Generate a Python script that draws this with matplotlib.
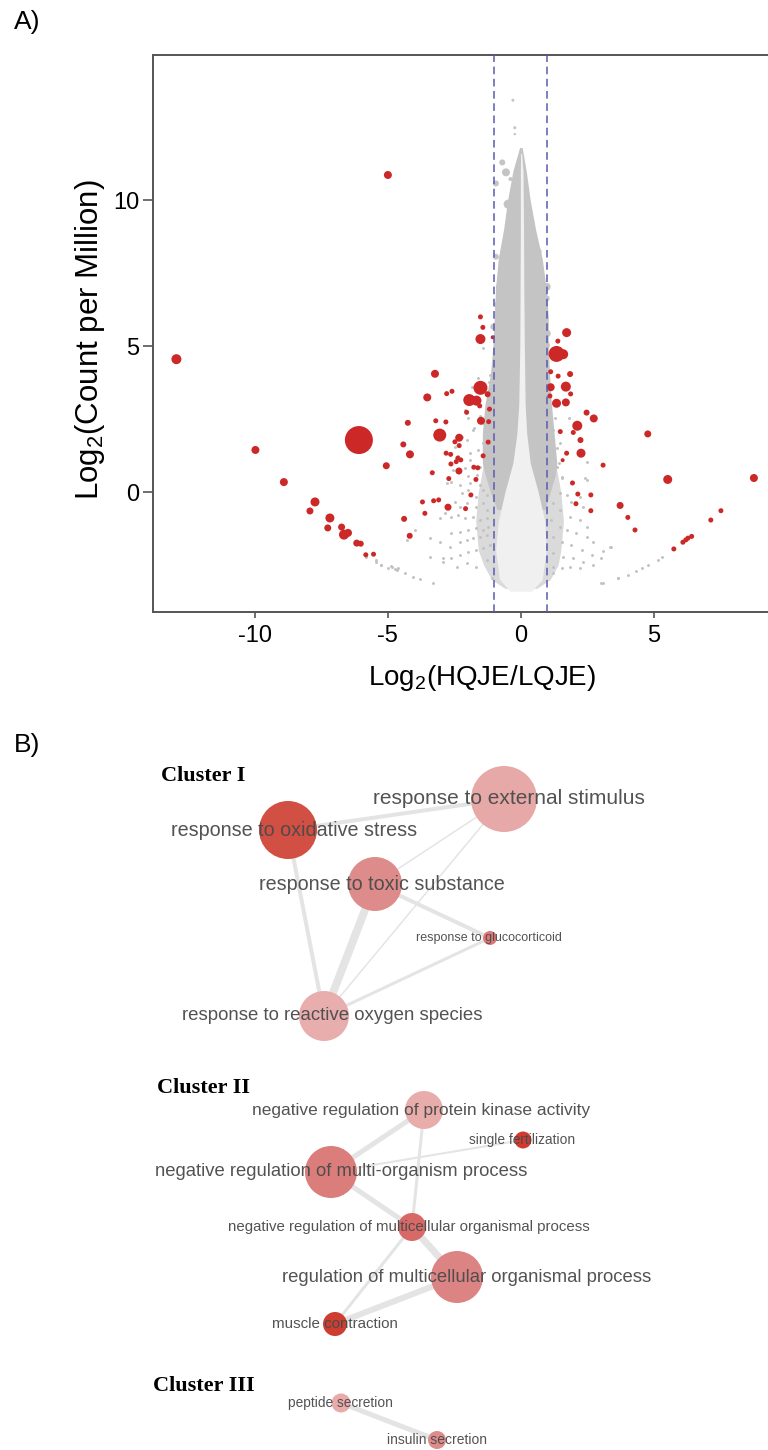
import matplotlib
matplotlib.use('Agg')
import matplotlib.pyplot as plt
from matplotlib.patches import Circle

plt.rcParams['font.family'] = ['Liberation Sans', 'DejaVu Sans']
plt.rcParams['mathtext.fontset'] = 'custom'
plt.rcParams['mathtext.rm'] = 'Liberation Sans'
plt.rcParams['mathtext.it'] = 'Liberation Sans:italic'

# ---------------- Panel A data ----------------
red_x = [-12.95, -5.0, -6.09, -9.98, -8.91, -7.74, -7.93, -7.18, -7.26, -6.74, -6.65, -6.5, -6.17, -6.02,
         -5.83, -5.54, -5.06, -4.42, -4.25, -4.17, -4.39, -4.18, -3.23, -3.52, -2.79, -2.59, -1.52, -1.94,
         -1.67, -1.25, -1.55, -1.18, -2.04, -1.5, -1.21, -3.2, -2.82, -3.05, -2.32, -2.48, -2.32, -2.81,
         -2.64, -1.23, -1.42, -2.37, -2.26, -2.43, -2.63, -1.77, -1.62, -2.33, -3.33, -2.71, -1.69, -1.88,
         -3.7, -3.28, -3.09, -2.74, -2.08, -3.61, -1.52, -1.43, -1.52, -1.06,
         1.72, 1.39, 1.34, 1.59, 1.12, 1.4, 1.85, 1.12, 1.69, 1.87, 1.09, 1.34, 1.69, 2.47, 2.74, 2.12,
         1.48, 1.97, 2.24, 2.26, 1.72, 1.57, 3.09, 4.77, 5.52, 8.76, 1.94, 2.14, 2.63, 2.07, 2.63, 3.73,
         4.02, 4.29, 7.14, 7.52, 5.75, 6.09, 6.2, 6.28, 6.42]
red_y = [4.55, 10.86, 1.78, 1.44, 0.34, -0.34, -0.65, -0.89, -1.23, -1.2, -1.46, -1.4, -1.75, -1.77,
         -2.15, -2.13, 0.9, 1.63, 2.37, 1.29, -0.92, -1.5, 4.05, 3.24, 3.37, 3.45, 3.57, 3.15,
         3.13, 3.35, 2.95, 2.84, 2.73, 2.44, 2.41, 2.44, 2.4, 1.95, 1.86, 1.72, 1.59, 1.33,
         1.29, 1.71, 1.24, 1.16, 1.1, 1.04, 0.96, 0.85, 0.83, 0.72, 0.66, 0.46, 0.43, -0.1,
         -0.34, -0.3, -0.27, -0.52, -0.57, -0.73, 6.0, 5.64, 5.24, 5.3,
         5.46, 5.17, 4.73, 4.72, 4.12, 3.97, 4.04, 3.59, 3.61, 3.36, 3.29, 3.04, 3.07, 2.72, 2.52, 2.27,
         2.07, 2.04, 1.78, 1.33, 1.33, 1.09, 0.92, 1.99, 0.43, 0.48, 0.31, -0.07, -0.1, -0.4, -0.64, -0.46,
         -0.87, -1.3, -0.96, -0.64, -1.95, -1.72, -1.64, -1.58, -1.52]
red_r = [5, 4, 14, 4, 4, 4.5, 3.5, 4.5, 3.5, 3.5, 5, 4, 3.5, 3,
         2.5, 2.5, 3.5, 3, 3, 4, 3, 3, 4, 4, 2.5, 2.5, 7, 6,
         5, 3, 2.5, 2.5, 2.5, 4, 2.5, 2.5, 2.5, 6.5, 4, 2.5, 2.5, 2.5,
         2.5, 2.5, 2.5, 2.5, 2.5, 2.5, 2.5, 2.5, 2.5, 3.5, 2.5, 2.5, 2.5, 2.5,
         2.5, 2.5, 2.5, 3.5, 2.5, 2.5, 2.5, 2.5, 5, 2,
         4.5, 2.5, 8, 5, 2.5, 2.5, 3, 4, 5, 2.5, 2.5, 4.5, 4, 3, 4, 5,
         2.5, 2.5, 3, 4.5, 2.5, 2, 2.5, 3.5, 4.5, 4, 2.5, 2.5, 2.5, 2.5, 2.5, 3.5,
         2.5, 2.5, 2.5, 2.5, 2.5, 2.5, 2.5, 2.5, 2.5]

# dense non-significant cloud: outer gray band, lighter low-count band, white centre streak
env_y = [-0.6, 0.0, 0.6, 1.0, 2.0, 3.0, 4.0, 5.0, 6.0, 7.0, 8.0, 9.0, 10.0, 11.0, 11.8]
env_left = [-0.9, -1.15, -1.35, -1.45, -1.45, -1.35, -1.15, -1.05, -1.0, -0.95, -0.85, -0.65, -0.5, -0.3, -0.05]
env_right = [0.9, 1.1, 1.3, 1.35, 1.25, 1.15, 1.08, 1.03, 1.03, 0.95, 0.8, 0.55, 0.35, 0.2, 0.05]
low_y = [-3.3, -3.0, -2.5, -2.0, -1.0, 0.0, 1.0, 1.5]
low_left = [-0.6, -1.1, -1.4, -1.6, -1.7, -1.6, -1.4, -1.2]
low_right = [0.6, 1.1, 1.4, 1.5, 1.6, 1.5, 1.3, 1.1]
core_y = [-3.4, -3.0, -2.0, -1.0, 0.0, 1.0, 2.0, 3.0, 5.0, 7.0, 9.0, 11.0, 11.6]
core_left = [-0.4, -0.8, -0.95, -0.85, -0.6, -0.3, -0.15, -0.08, -0.04, -0.03, -0.02, -0.02, -0.01]
core_right = [0.4, 0.8, 0.95, 0.9, 0.65, 0.35, 0.22, 0.16, 0.13, 0.11, 0.1, 0.08, 0.03]

gray_x = [-2.79, -2.61, -2.29, -2.23, -1.98, -1.54, -1.42, -1.67, -1.29, -1.17, -2.48, -2.29, -2.04, -1.67,
          -1.42, -1.29, -2.86, -2.61, -2.36, -2.11, -1.79, -1.54, -1.29, -3.05, -3.98, -4.30, -3.42, -2.61,
          -2.29, -1.98, -1.67, -1.42, -1.23, -3.05, -2.67, -2.29, -2.04, -1.79, -1.54, -1.29, -3.42, -2.92,
          -2.61, -2.29, -1.98, -1.67, -1.42, -1.17, -5.24, -4.86, -4.67, -4.36, -4.05, -3.80, -3.30, -2.92,
          -2.42, -2.04, -1.67, -1.29, -1.10,
          1.22, 1.53, 1.47, 1.72, 1.90, 2.22, 2.34, 1.22, 1.47, 1.84, 2.22, 2.47, 1.15, 1.47, 1.72, 2.09,
          2.47, 2.72, 3.35, 1.22, 1.53, 1.90, 2.28, 2.66, 3.03, 1.22, 1.59, 1.97, 2.34, 2.72, 1.22, 1.53,
          1.84, 2.22, 1.22, 3.66, 3.03,
          -5.82, -5.46, -5.46, -5.25, -5.0, -4.88, -4.75, -4.62,
          3.09, 3.38, 3.64, 4.01, 4.32, 4.56, 4.79, 5.14, 5.3, 3.09,
          -1.42, -1.17, -1.19, -1.79, -1.17, -1.42, -1.79, -2.04, -1.42, -2.48, -1.92, -1.29, -2.67, -2.11,
          -1.54, -1.17, -1.92, 1.22, 1.47, 1.15, 2.47, 1.34, 2.47, 1.09, 1.28, 1.82, 1.18, 1.34, 1.44,
          1.53, 2.41,
          -1.6, -1.85, -2.1, -1.55, -1.75, -2.0, -2.2, -1.6, -1.9, -2.35, -1.65, -2.0, -2.55, -1.5]
gray_y = [0.30, 0.35, 0.24, -0.05, 0.07, 0.24, 0.07, -0.16, -0.10, 0.41, -0.33, -0.50, -0.39, -0.50,
          -0.39, -0.62, -0.73, -0.85, -0.79, -0.90, -0.85, -0.96, -0.90, -0.90, -1.30, -1.64, -1.59, -1.42,
          -1.36, -1.30, -1.24, -1.30, -1.19, -1.70, -1.87, -1.70, -1.64, -1.59, -1.53, -1.47, -2.22, -2.27,
          -2.27, -2.16, -2.04, -1.99, -1.93, -1.82, -2.50, -2.56, -2.67, -2.79, -2.90, -2.99, -3.13, -2.39,
          -2.56, -2.44, -2.56, -2.33, -2.96,
          0.52, 0.47, -0.05, -0.10, -0.33, -0.16, -0.50, -0.39, -0.62, -0.85, -0.96, -1.19, -0.96, -1.19,
          -1.30, -1.42, -1.53, -1.70, -1.87, -1.53, -1.70, -1.82, -1.99, -2.16, -2.27, -2.10, -2.22, -2.27,
          -2.39, -2.50, -2.56, -2.61, -2.56, -2.61, -2.79, -2.96, -3.13,
          -2.24, -2.33, -2.41, -2.5, -2.59, -2.53, -2.65, -2.61,
          -2.01, -1.88, -2.96, -2.83, -2.72, -2.6, -2.51, -2.33, -2.24, -3.11,
          4.92, 4.0, 3.78, 3.26, 2.92, 2.35, 2.12, 1.78, 1.67, 1.55, 1.32, 1.21, 0.98, 0.81,
          0.87, 0.41, 0.3, 2.12, 1.67, 1.44, 1.04, 0.87, 0.41, 2.35, 2.52, 2.52, 2.18, 1.5, 0.98,
          0.52, 0.47,
          3.9, 3.6, 2.8, 2.6, 2.2, 2.55, 1.9, 1.45, 1.1, 1.25, 0.6, 0.55, 0.75, 3.45]

big_gray_x = [-0.3, -0.23, -0.23, -0.7, -0.56, -0.94, -0.39, -0.48, 0.27, 0.42, -0.48, 0.65, -0.38, -0.94,
              -0.6, 0.46, 0.59, -0.48, 0.97, 0.71, -0.73, 0.03, 0.21, -0.85, 0.97, 0.9, -0.79, 0.97, -1.04]
big_gray_y = [13.42, 12.48, 12.26, 11.29, 10.95, 10.57, 10.72, 9.86, 9.77, 9.22, 8.86, 8.23, 8.23, 8.06,
              8.0, 7.77, 7.49, 7.37, 7.03, 6.8, 6.92, 8.74, 8.4, 6.4, 5.43, 5.03, 7.03, 6.63, 5.66]
big_gray_r = [1.5, 1.5, 1.2, 3, 4, 3, 2, 4.5, 2, 2.5, 4, 3.5, 4, 3,
              3, 2.5, 2.5, 3.5, 4, 4, 4, 1.5, 1.5, 4, 4, 5, 4, 3, 3]

fc_cutoff = [-1, 1]
x_ticks = [-10, -5, 0, 5]
x_ticklabels = ['-10', '-5', '0', '5']
y_ticks = [0, 5, 10]
y_ticklabels = ['0', '5', '10']

# ---------------- Panel B data ----------------
cluster_names = ['Cluster I', 'Cluster II', 'Cluster III']
node_labels = ['response to external stimulus', 'response to oxidative stress',
               'response to toxic substance', 'response to glucocorticoid',
               'response to reactive oxygen species',
               'negative regulation of protein kinase activity', 'single fertilization',
               'negative regulation of multi-organism process',
               'negative regulation of multicellular organismal process',
               'regulation of multicellular organismal process', 'muscle contraction',
               'peptide secretion', 'insulin secretion']
node_x = [504, 288, 375, 490, 324, 424, 523, 331, 412, 457, 335, 341, 437]
node_y = [799, 830, 884, 938, 1016, 1110, 1140, 1172, 1227, 1277, 1324, 1403, 1440]
node_r = [33, 29, 27, 7, 25, 19, 8.5, 26, 14, 26, 12, 9.5, 9]
node_color = ['#e6a9a8', '#d14f43', '#dd8c8b', '#dd7a78', '#e8aeae', '#e8acab', '#cf3b30',
              '#db7d7b', '#d76a66', '#dc8483', '#cd3d32', '#e9aaaa', '#dc8c8a']
label_x = [509, 294, 382, 489, 332, 421, 522, 341, 409, 467, 335, 340, 437]
label_fs = [15.0, 14.2, 14.2, 9.0, 13.4, 12.5, 9.9, 13.3, 10.8, 13.3, 10.9, 9.9, 10.0]
edges = [(1, 0, 4), (1, 4, 4), (2, 0, 1.5), (2, 4, 8), (2, 3, 4), (4, 0, 1.5), (4, 3, 3),
         (5, 7, 5), (5, 8, 3), (7, 6, 2), (7, 8, 5), (8, 9, 7), (8, 10, 3), (9, 10, 6),
         (11, 12, 5)]
cluster_x = [161, 157, 153]
cluster_y = [776, 1088, 1386]

# ---------------- Figure ----------------
W, H = 768, 1450
fig = plt.figure(figsize=(W / 100, H / 100), dpi=100)

ax = fig.add_axes([153 / W, 1 - 612 / H, 1 - 153 / W, (612 - 55) / H])
ax.set_xlim(-13.83, 9.29)
ax.set_ylim(-4.11, 14.97)

ax.fill_betweenx(low_y, low_left, low_right, color='#dadada', lw=0, zorder=1)
ax.fill_betweenx(env_y, env_left, env_right, color='#c4c4c4', lw=0, zorder=1)
ax.scatter(gray_x, gray_y, s=4.5, color='#c2c2c2', lw=0, zorder=1)
ax.scatter(big_gray_x, big_gray_y, s=[(1.44 * r) ** 2 for r in big_gray_r],
           color='#c4c4c4', lw=0, zorder=1)
ax.fill_betweenx(core_y, core_left, core_right, color='#f0f0f0', lw=0, zorder=2)
ax.scatter(red_x, red_y, s=[(1.44 * r) ** 2 for r in red_r], color='#cc2828', lw=0, zorder=3)
for xc in fc_cutoff:
    ax.axvline(xc, color='#5b5bb0', lw=1.1, ls=(0, (5, 3)), zorder=4)

for side in ['left', 'bottom', 'top']:
    ax.spines[side].set_color('#555555')
    ax.spines[side].set_linewidth(1.4)
ax.spines['right'].set_visible(False)
ax.set_xticks(x_ticks)
ax.set_xticklabels(x_ticklabels)
ax.set_yticks(y_ticks)
ax.set_yticklabels(y_ticklabels)
ax.tick_params(axis='x', direction='out', length=4, width=1.2, color='#555555',
               labelsize=17, pad=5)
ax.tick_params(axis='y', direction='out', length=7, width=1.2, color='#555555',
               labelsize=17, pad=3)

fig.text(482 / W, 1 - 678 / H, r'Log$_2$(HQJE/LQJE)', fontsize=20, ha='center', va='center')
fig.text(90 / W, 1 - 340 / H, r'Log$_2$(Count per Million)', fontsize=22.5, ha='center',
         va='center', rotation=90)
fig.text(14 / W, 1 - 22 / H, 'A)', fontsize=19, ha='left', va='center')
fig.text(14 / W, 1 - 745 / H, 'B)', fontsize=19, ha='left', va='center')

# network panel in layout units
bx = fig.add_axes([0, 0, 1, 750 / H])
bx.set_xlim(0, W)
bx.set_ylim(H, 700)
bx.axis('off')
for a, b, w in edges:
    bx.plot([node_x[a], node_x[b]], [node_y[a], node_y[b]], color='#e4e4e4',
            lw=w * 0.72, solid_capstyle='round', zorder=1)
for i in range(len(node_labels)):
    bx.add_patch(Circle((node_x[i], node_y[i]), node_r[i], facecolor=node_color[i],
                        edgecolor='none', zorder=2))
for i in range(len(node_labels)):
    bx.text(label_x[i], node_y[i], node_labels[i], fontsize=label_fs[i], color='#4a4a4a',
            ha='center', va='center', zorder=3, alpha=0.95)
for name, cx, cy in zip(cluster_names, cluster_x, cluster_y):
    bx.text(cx, cy, name, fontsize=16, fontweight='bold', family=['Liberation Serif', 'DejaVu Serif'],
            ha='left', va='center', color='black')

fig.savefig('out.png', dpi=100)
